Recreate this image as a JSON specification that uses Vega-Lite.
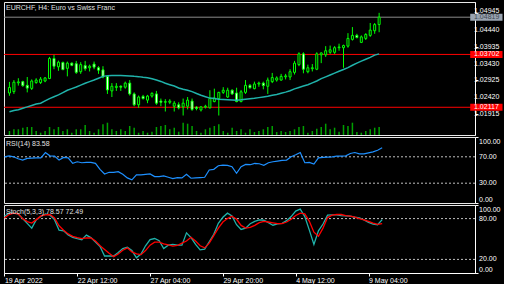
{
"$schema":"https://vega.github.io/schema/vega-lite/v6.json",
"background":"black",
"padding":{"left":1,"top":1,"right":0,"bottom":0},
"spacing":0,
"datasets":{
"bars":[
{"n":0,"o":1.02545,"h":1.02878,"l":1.02461,"c":1.02711,"v":400,"ma":1.01981,"rsi":70,"k":83.5,"d":81},
{"n":1,"o":1.02586,"h":1.02933,"l":1.02517,"c":1.02869,"v":570,"ma":1.02017,"rsi":71.5,"k":88,"d":86},
{"n":2,"o":1.02850,"h":1.02988,"l":1.02767,"c":1.02878,"v":570,"ma":1.02045,"rsi":70,"k":88,"d":88},
{"n":3,"o":1.02886,"h":1.02914,"l":1.02731,"c":1.02767,"v":730,"ma":1.02087,"rsi":67,"k":87,"d":87},
{"n":4,"o":1.02775,"h":1.03025,"l":1.02564,"c":1.02692,"v":800,"ma":1.02128,"rsi":65,"k":80,"d":80},
{"n":5,"o":1.02683,"h":1.02952,"l":1.02636,"c":1.02905,"v":800,"ma":1.02170,"rsi":67.5,"k":73,"d":75.5},
{"n":6,"o":1.02858,"h":1.02988,"l":1.02822,"c":1.02933,"v":400,"ma":1.02212,"rsi":68,"k":66,"d":73.5},
{"n":7,"o":1.02858,"h":1.03025,"l":1.02814,"c":1.02961,"v":230,"ma":1.02240,"rsi":68.5,"k":78.5,"d":78.5},
{"n":8,"o":1.02905,"h":1.03025,"l":1.02869,"c":1.02997,"v":400,"ma":1.02309,"rsi":68.5,"k":83,"d":84},
{"n":9,"o":1.02980,"h":1.03627,"l":1.02961,"c":1.03580,"v":800,"ma":1.02378,"rsi":76.5,"k":87,"d":85.5},
{"n":10,"o":1.03580,"h":1.03691,"l":1.03258,"c":1.03349,"v":570,"ma":1.02434,"rsi":71.5,"k":85,"d":86},
{"n":11,"o":1.03330,"h":1.03516,"l":1.03211,"c":1.03469,"v":800,"ma":1.02489,"rsi":71,"k":78.5,"d":81},
{"n":12,"o":1.03460,"h":1.03488,"l":1.03230,"c":1.03247,"v":400,"ma":1.02558,"rsi":65,"k":63,"d":69.5},
{"n":13,"o":1.03285,"h":1.03488,"l":1.03044,"c":1.03441,"v":570,"ma":1.02628,"rsi":69,"k":62,"d":63},
{"n":14,"o":1.03441,"h":1.03460,"l":1.03349,"c":1.03377,"v":230,"ma":1.02675,"rsi":68.5,"k":56,"d":57.5},
{"n":15,"o":1.03424,"h":1.03508,"l":1.03119,"c":1.03164,"v":570,"ma":1.02725,"rsi":60,"k":52.5,"d":54},
{"n":16,"o":1.03183,"h":1.03469,"l":1.03119,"c":1.03396,"v":570,"ma":1.02780,"rsi":62.5,"k":50.5,"d":52},
{"n":17,"o":1.03369,"h":1.03508,"l":1.03211,"c":1.03274,"v":1000,"ma":1.02836,"rsi":61,"k":49,"d":50.5},
{"n":18,"o":1.03302,"h":1.03396,"l":1.03191,"c":1.03349,"v":400,"ma":1.02886,"rsi":61.5,"k":55.7,"d":51.5},
{"n":19,"o":1.03413,"h":1.03488,"l":1.03258,"c":1.03321,"v":230,"ma":1.02933,"rsi":61.5,"k":52,"d":51.7},
{"n":20,"o":1.03302,"h":1.03349,"l":1.03119,"c":1.03230,"v":570,"ma":1.02988,"rsi":60,"k":45.5,"d":47},
{"n":21,"o":1.03238,"h":1.03349,"l":1.02988,"c":1.03025,"v":1070,"ma":1.03044,"rsi":51,"k":39,"d":40},
{"n":22,"o":1.03044,"h":1.03072,"l":1.02517,"c":1.02636,"v":1230,"ma":1.03066,"rsi":44,"k":25,"d":34.6},
{"n":23,"o":1.02608,"h":1.02842,"l":1.02425,"c":1.02747,"v":570,"ma":1.03072,"rsi":46.5,"k":25,"d":29},
{"n":24,"o":1.02711,"h":1.02842,"l":1.02608,"c":1.02747,"v":400,"ma":1.03072,"rsi":46.5,"k":25,"d":24},
{"n":25,"o":1.02747,"h":1.02775,"l":1.02608,"c":1.02720,"v":570,"ma":1.03072,"rsi":47.5,"k":30,"d":28},
{"n":26,"o":1.02720,"h":1.02886,"l":1.02675,"c":1.02842,"v":400,"ma":1.03066,"rsi":43.5,"k":36,"d":33.5},
{"n":27,"o":1.02842,"h":1.02933,"l":1.02470,"c":1.02517,"v":900,"ma":1.03058,"rsi":38,"k":38,"d":37},
{"n":28,"o":1.02517,"h":1.02564,"l":1.02148,"c":1.02192,"v":730,"ma":1.03044,"rsi":35,"k":33,"d":31},
{"n":29,"o":1.02192,"h":1.02470,"l":1.02101,"c":1.02425,"v":230,"ma":1.03036,"rsi":42.5,"k":22.5,"d":28},
{"n":30,"o":1.02442,"h":1.02489,"l":1.02350,"c":1.02378,"v":400,"ma":1.03016,"rsi":42.5,"k":28,"d":27},
{"n":31,"o":1.02331,"h":1.02489,"l":1.02240,"c":1.02453,"v":230,"ma":1.03002,"rsi":43.5,"k":40,"d":33},
{"n":32,"o":1.02453,"h":1.02564,"l":1.02406,"c":1.02536,"v":330,"ma":1.02975,"rsi":44,"k":49,"d":41},
{"n":33,"o":1.02517,"h":1.02608,"l":1.02192,"c":1.02240,"v":800,"ma":1.02933,"rsi":40,"k":50.7,"d":45.4},
{"n":34,"o":1.02303,"h":1.02378,"l":1.02148,"c":1.02267,"v":900,"ma":1.02892,"rsi":40,"k":47.5,"d":45.4},
{"n":35,"o":1.02267,"h":1.02359,"l":1.01990,"c":1.02287,"v":1000,"ma":1.02836,"rsi":41,"k":36,"d":43},
{"n":36,"o":1.02267,"h":1.02359,"l":1.02212,"c":1.02303,"v":570,"ma":1.02794,"rsi":39,"k":41,"d":41.5},
{"n":37,"o":1.02148,"h":1.02303,"l":1.01990,"c":1.02240,"v":730,"ma":1.02753,"rsi":37,"k":42,"d":39.6},
{"n":38,"o":1.02192,"h":1.02267,"l":1.02053,"c":1.02101,"v":330,"ma":1.02697,"rsi":38.5,"k":41,"d":40.5},
{"n":39,"o":1.02128,"h":1.02378,"l":1.01870,"c":1.02240,"v":1230,"ma":1.02656,"rsi":38,"k":41,"d":44},
{"n":40,"o":1.02148,"h":1.02425,"l":1.02053,"c":1.02331,"v":1130,"ma":1.02628,"rsi":43.5,"k":59,"d":47},
{"n":41,"o":1.02303,"h":1.02378,"l":1.02009,"c":1.02053,"v":900,"ma":1.02586,"rsi":37.5,"k":52,"d":52.5},
{"n":42,"o":1.02120,"h":1.02148,"l":1.02026,"c":1.02081,"v":400,"ma":1.02531,"rsi":38,"k":42,"d":47},
{"n":43,"o":1.02037,"h":1.02148,"l":1.01990,"c":1.02128,"v":230,"ma":1.02476,"rsi":38.5,"k":34,"d":40},
{"n":44,"o":1.02120,"h":1.02192,"l":1.02081,"c":1.02148,"v":570,"ma":1.02434,"rsi":39,"k":35,"d":37},
{"n":45,"o":1.02101,"h":1.02628,"l":1.02081,"c":1.02378,"v":730,"ma":1.02392,"rsi":50,"k":46,"d":44},
{"n":46,"o":1.02287,"h":1.02675,"l":1.02267,"c":1.02397,"v":900,"ma":1.02378,"rsi":51,"k":57,"d":55},
{"n":47,"o":1.02378,"h":1.02581,"l":1.01870,"c":1.02564,"v":1070,"ma":1.02359,"rsi":56.5,"k":73,"d":66},
{"n":48,"o":1.02564,"h":1.02720,"l":1.02517,"c":1.02628,"v":400,"ma":1.02350,"rsi":57.5,"k":82,"d":75},
{"n":49,"o":1.02425,"h":1.02703,"l":1.02397,"c":1.02628,"v":230,"ma":1.02342,"rsi":57,"k":88,"d":80},
{"n":50,"o":1.02628,"h":1.02656,"l":1.02489,"c":1.02517,"v":730,"ma":1.02336,"rsi":55,"k":84,"d":83.5},
{"n":51,"o":1.02545,"h":1.02703,"l":1.02267,"c":1.02287,"v":400,"ma":1.02331,"rsi":45,"k":71,"d":79},
{"n":52,"o":1.02287,"h":1.02636,"l":1.02267,"c":1.02581,"v":570,"ma":1.02342,"rsi":55,"k":64,"d":70},
{"n":53,"o":1.02564,"h":1.02933,"l":1.02517,"c":1.02775,"v":230,"ma":1.02359,"rsi":58.5,"k":66,"d":66},
{"n":54,"o":1.02775,"h":1.02814,"l":1.02675,"c":1.02703,"v":570,"ma":1.02373,"rsi":58,"k":72.5,"d":67},
{"n":55,"o":1.02675,"h":1.02886,"l":1.02656,"c":1.02814,"v":300,"ma":1.02386,"rsi":60,"k":76,"d":70},
{"n":56,"o":1.02814,"h":1.02886,"l":1.02731,"c":1.02842,"v":400,"ma":1.02406,"rsi":59.5,"k":78,"d":74},
{"n":57,"o":1.02842,"h":1.02886,"l":1.02656,"c":1.02767,"v":570,"ma":1.02425,"rsi":57,"k":77.6,"d":76},
{"n":58,"o":1.02747,"h":1.03008,"l":1.02517,"c":1.02933,"v":800,"ma":1.02447,"rsi":61,"k":74,"d":75},
{"n":59,"o":1.02886,"h":1.03147,"l":1.02842,"c":1.03008,"v":900,"ma":1.02476,"rsi":62.5,"k":70.3,"d":73.7},
{"n":60,"o":1.02933,"h":1.03044,"l":1.02886,"c":1.02997,"v":300,"ma":1.02503,"rsi":63.5,"k":72.3,"d":72.5},
{"n":61,"o":1.02933,"h":1.03119,"l":1.02914,"c":1.03044,"v":400,"ma":1.02536,"rsi":64.5,"k":73,"d":72.5},
{"n":62,"o":1.03030,"h":1.03119,"l":1.02952,"c":1.03058,"v":300,"ma":1.02572,"rsi":65,"k":77,"d":75},
{"n":63,"o":1.03025,"h":1.03258,"l":1.02933,"c":1.03183,"v":400,"ma":1.02614,"rsi":70,"k":83,"d":79},
{"n":64,"o":1.03164,"h":1.03508,"l":1.03100,"c":1.03441,"v":570,"ma":1.02669,"rsi":73,"k":91,"d":84.5},
{"n":65,"o":1.03396,"h":1.03766,"l":1.03349,"c":1.03718,"v":800,"ma":1.02711,"rsi":76.5,"k":94,"d":88},
{"n":66,"o":1.03718,"h":1.03766,"l":1.03136,"c":1.03258,"v":900,"ma":1.02753,"rsi":61,"k":83,"d":87},
{"n":67,"o":1.03183,"h":1.03396,"l":1.03136,"c":1.03302,"v":230,"ma":1.02794,"rsi":61.5,"k":63,"d":76},
{"n":68,"o":1.03274,"h":1.03413,"l":1.03191,"c":1.03302,"v":400,"ma":1.02850,"rsi":59,"k":42,"d":60},
{"n":69,"o":1.03258,"h":1.03766,"l":1.03230,"c":1.03718,"v":630,"ma":1.02905,"rsi":68.5,"k":62,"d":54},
{"n":70,"o":1.03691,"h":1.03766,"l":1.03441,"c":1.03746,"v":800,"ma":1.02975,"rsi":69,"k":72,"d":66},
{"n":71,"o":1.03691,"h":1.03951,"l":1.03627,"c":1.03813,"v":1130,"ma":1.03030,"rsi":69.5,"k":85,"d":81.5},
{"n":72,"o":1.03766,"h":1.03968,"l":1.03718,"c":1.03841,"v":570,"ma":1.03086,"rsi":70,"k":85.5,"d":85},
{"n":73,"o":1.03766,"h":1.03951,"l":1.03718,"c":1.03904,"v":730,"ma":1.03141,"rsi":71,"k":85.5,"d":86},
{"n":74,"o":1.03904,"h":1.04024,"l":1.03813,"c":1.03924,"v":330,"ma":1.03197,"rsi":71,"k":84.5,"d":86},
{"n":75,"o":1.03904,"h":1.03996,"l":1.03302,"c":1.03968,"v":1000,"ma":1.03252,"rsi":71.5,"k":84,"d":84.5},
{"n":76,"o":1.03951,"h":1.04340,"l":1.03904,"c":1.04182,"v":900,"ma":1.03308,"rsi":75,"k":83.5,"d":83.5},
{"n":77,"o":1.04154,"h":1.04523,"l":1.04118,"c":1.04273,"v":1230,"ma":1.03377,"rsi":76.5,"k":82,"d":82},
{"n":78,"o":1.04273,"h":1.04321,"l":1.04182,"c":1.04210,"v":300,"ma":1.03441,"rsi":74.5,"k":81,"d":80},
{"n":79,"o":1.04063,"h":1.04273,"l":1.04043,"c":1.04229,"v":230,"ma":1.03502,"rsi":74.5,"k":78,"d":78},
{"n":80,"o":1.04182,"h":1.04340,"l":1.04135,"c":1.04301,"v":400,"ma":1.03557,"rsi":76,"k":74.5,"d":76},
{"n":81,"o":1.04273,"h":1.04645,"l":1.04229,"c":1.04432,"v":570,"ma":1.03613,"rsi":77.5,"k":72,"d":73.5},
{"n":82,"o":1.04412,"h":1.04645,"l":1.04321,"c":1.04598,"v":730,"ma":1.03682,"rsi":80,"k":71,"d":71.5},
{"n":83,"o":1.04598,"h":1.04950,"l":1.04368,"c":1.04819,"v":800,"ma":1.03718,"rsi":83.58,"k":78.57,"d":72.49}
],
"levels":[{"price":1.04819,"kind":"bid"},{"price":1.03702,"kind":"level"},{"price":1.02117,"kind":"level"}],
"priceTicks":[{"p":1.01915},{"p":1.0242},{"p":1.02925},{"p":1.0343},{"p":1.03935},{"p":1.0444},{"p":1.04945}],
"rsiLevels":[{"lv":70},{"lv":30}],
"rsiTicks":[{"lv":100},{"lv":70},{"lv":30},{"lv":0}],
"stochLevels":[{"lv":80},{"lv":20}],
"stochTicks":[{"lv":100},{"lv":80},{"lv":20},{"lv":0}]
},
"vconcat":[
{
"width":471,"height":133,
"title":{"text":"EURCHF, H4:  Euro vs Swiss Franc","offset":-9,"dx":2},
"layer":[
{"data":{"name":"bars"},"mark":{"type":"bar","width":1.5,"color":"#00a000"},
 "encoding":{"x":{"field":"n","type":"quantitative","scale":{"domain":[-0.1,103.4],"nice":false,"zero":false},"axis":null},
 "y":{"field":"v","type":"quantitative","scale":{"domain":[0,13300],"nice":false},"axis":null}}},
{"layer":[
 {"data":{"name":"levels"},"mark":{"type":"rule","strokeWidth":1},
  "encoding":{"y":{"field":"price","type":"quantitative","scale":{"domain":[1.01435,1.05125],"nice":false,"zero":false},
   "axis":{"orient":"right","values":[1.01915,1.0242,1.02925,1.0343,1.03935,1.0444,1.04945],"labels":false}},
   "color":{"condition":{"test":"datum.kind == 'bid'","value":"#8a8a8a"},"value":"#ff0000"}}},
 {"data":{"name":"bars"},"mark":{"type":"rule","color":"#00ff00","strokeWidth":1},
  "encoding":{"x":{"field":"n","type":"quantitative","axis":null},"y":{"field":"l","type":"quantitative"},"y2":{"field":"h"}}},
 {"data":{"name":"bars"},"mark":{"type":"bar","width":2,"stroke":"#00ff00","strokeWidth":1},
  "encoding":{"x":{"field":"n","type":"quantitative","axis":null},"y":{"field":"o","type":"quantitative"},"y2":{"field":"c"},
   "fill":{"condition":{"test":"datum.o > datum.c","value":"#ffffff"},"value":"#000000"}}},
 {"data":{"name":"bars"},"mark":{"type":"line","color":"#20b2aa","strokeWidth":1.5},
  "encoding":{"x":{"field":"n","type":"quantitative","axis":null},"y":{"field":"ma","type":"quantitative"}}},
 {"data":{"name":"priceTicks"},"transform":[{"filter":"datum.p < 1.049"}],"mark":{"type":"text","align":"left","baseline":"middle","fontSize":7,"font":"Liberation Sans","color":"#ffffff","clip":false},
  "encoding":{"x":{"datum":104.3,"type":"quantitative","axis":null},"y":{"field":"p","type":"quantitative"},"text":{"field":"p","format":".5f"}}},
 {"data":{"name":"priceTicks"},"transform":[{"filter":"datum.p > 1.049"}],"mark":{"type":"text","align":"left","baseline":"middle","dy":-2,"fontSize":7,"font":"Liberation Sans","color":"#ffffff","clip":false},
  "encoding":{"x":{"datum":104.3,"type":"quantitative","axis":null},"y":{"field":"p","type":"quantitative"},"text":{"field":"p","format":".5f"}}},
 {"data":{"name":"levels"},"mark":{"type":"bar","height":7,"clip":false},
  "encoding":{"x":{"datum":103.45,"type":"quantitative","axis":null},"x2":{"datum":110.7},"y":{"field":"price","type":"quantitative"},
   "color":{"condition":{"test":"datum.kind == 'bid'","value":"#9aa4b0"},"value":"#ff0000"}}},
 {"data":{"name":"levels"},"mark":{"type":"text","align":"left","baseline":"middle","fontSize":7,"font":"Liberation Sans","clip":false},
  "encoding":{"x":{"datum":104.3,"type":"quantitative","axis":null},"y":{"field":"price","type":"quantitative"},
   "text":{"field":"price","format":".5f"},
   "color":{"condition":{"test":"datum.kind == 'bid'","value":"#404850"},"value":"#ffffff"}}}
]}
],
"resolve":{"scale":{"y":"independent"}}
},
{
"width":471,"height":66,
"title":{"text":"RSI(14) 83.58","offset":-10,"dx":2},
"layer":[
 {"data":{"name":"rsiLevels"},"mark":{"type":"rule","color":"#c0c0c0","strokeDash":[2,2],"strokeWidth":1},
  "encoding":{"y":{"field":"lv","type":"quantitative","scale":{"domain":[0,100],"nice":false},
   "axis":{"orient":"right","values":[0,30,70,100],"labels":false}}}},
 {"data":{"name":"bars"},"mark":{"type":"line","color":"#1e90ff","strokeWidth":1.2},
  "encoding":{"x":{"field":"n","type":"quantitative","scale":{"domain":[-0.1,103.4],"nice":false,"zero":false},"axis":null},
   "y":{"field":"rsi","type":"quantitative"}}},
 {"data":{"name":"rsiTicks"},"transform":[{"filter":"datum.lv == 100"}],
  "mark":{"type":"text","align":"left","baseline":"top","dy":1,"fontSize":7,"font":"Liberation Sans","color":"#ffffff","clip":false},
  "encoding":{"x":{"datum":104.3,"type":"quantitative","axis":null},"y":{"field":"lv","type":"quantitative"},"text":{"field":"lv","format":".2f"}}},
 {"data":{"name":"rsiTicks"},"transform":[{"filter":"datum.lv > 0 && datum.lv < 100"}],
  "mark":{"type":"text","align":"left","baseline":"middle","fontSize":7,"font":"Liberation Sans","color":"#ffffff","clip":false},
  "encoding":{"x":{"datum":104.3,"type":"quantitative","axis":null},"y":{"field":"lv","type":"quantitative"},"text":{"field":"lv","format":".2f"}}},
 {"data":{"name":"rsiTicks"},"transform":[{"filter":"datum.lv == 0"}],
  "mark":{"type":"text","align":"left","baseline":"bottom","fontSize":7,"font":"Liberation Sans","color":"#ffffff","clip":false},
  "encoding":{"x":{"datum":104.3,"type":"quantitative","axis":null},"y":{"field":"lv","type":"quantitative"},"text":{"field":"lv","format":".2f"}}}
]
},
{
"width":471,"height":68,
"title":{"text":"Stoch(5,3,3) 78.57 72.49","offset":-10,"dx":2},
"layer":[
 {"data":{"name":"stochLevels"},"mark":{"type":"rule","color":"#c0c0c0","strokeDash":[2,2],"strokeWidth":1},
  "encoding":{"y":{"field":"lv","type":"quantitative","scale":{"domain":[0,100],"nice":false},
   "axis":{"orient":"right","values":[0,20,80,100],"labels":false}}}},
 {"data":{"name":"bars"},"mark":{"type":"line","color":"#20b2aa","strokeWidth":1.3},
  "encoding":{"x":{"field":"n","type":"quantitative","scale":{"domain":[-0.1,103.4],"nice":false,"zero":false},
   "axis":{"values":[0,16,32,48,64,80],"labelAlign":"left","labelPadding":0,"labelOverlap":false,"labelFlush":false,
    "labelExpr":"datum.value == 0 ? '19 Apr 2022' : datum.value == 16 ? '22 Apr 12:00' : datum.value == 32 ? '27 Apr 04:00' : datum.value == 48 ? '29 Apr 20:00' : datum.value == 64 ? '4 May 12:00' : '9 May 04:00'"}},
   "y":{"field":"k","type":"quantitative"}}},
 {"data":{"name":"bars"},"mark":{"type":"line","color":"#ff0000","strokeWidth":1.3},
  "encoding":{"x":{"field":"n","type":"quantitative"},"y":{"field":"d","type":"quantitative"}}},
 {"data":{"name":"stochTicks"},"transform":[{"filter":"datum.lv == 100"}],
  "mark":{"type":"text","align":"left","baseline":"top","dy":1,"fontSize":7,"font":"Liberation Sans","color":"#ffffff","clip":false},
  "encoding":{"x":{"datum":104.3,"type":"quantitative"},"y":{"field":"lv","type":"quantitative"},"text":{"field":"lv","format":".2f"}}},
 {"data":{"name":"stochTicks"},"transform":[{"filter":"datum.lv > 0 && datum.lv < 100"}],
  "mark":{"type":"text","align":"left","baseline":"middle","fontSize":7,"font":"Liberation Sans","color":"#ffffff","clip":false},
  "encoding":{"x":{"datum":104.3,"type":"quantitative"},"y":{"field":"lv","type":"quantitative"},"text":{"field":"lv","format":".2f"}}},
 {"data":{"name":"stochTicks"},"transform":[{"filter":"datum.lv == 0"}],
  "mark":{"type":"text","align":"left","baseline":"bottom","fontSize":7,"font":"Liberation Sans","color":"#ffffff","clip":false},
  "encoding":{"x":{"datum":104.3,"type":"quantitative"},"y":{"field":"lv","type":"quantitative"},"text":{"field":"lv","format":".2f"}}}
]
}
],
"config":{
 "view":{"stroke":"#e8e8e8","strokeWidth":1},
 "font":"Liberation Sans",
 "axis":{"labelFont":"Liberation Sans","labelFontSize":7,"labelColor":"#ffffff","tickColor":"#ffffff","domainColor":"#ffffff","tickSize":3,"labelPadding":1,"grid":false,"title":null,"labelOverlap":false},
 "title":{"color":"#e0e0e0","fontSize":7,"font":"Liberation Sans","fontWeight":"normal","anchor":"start","frame":"group","baseline":"alphabetic"}
}
}
